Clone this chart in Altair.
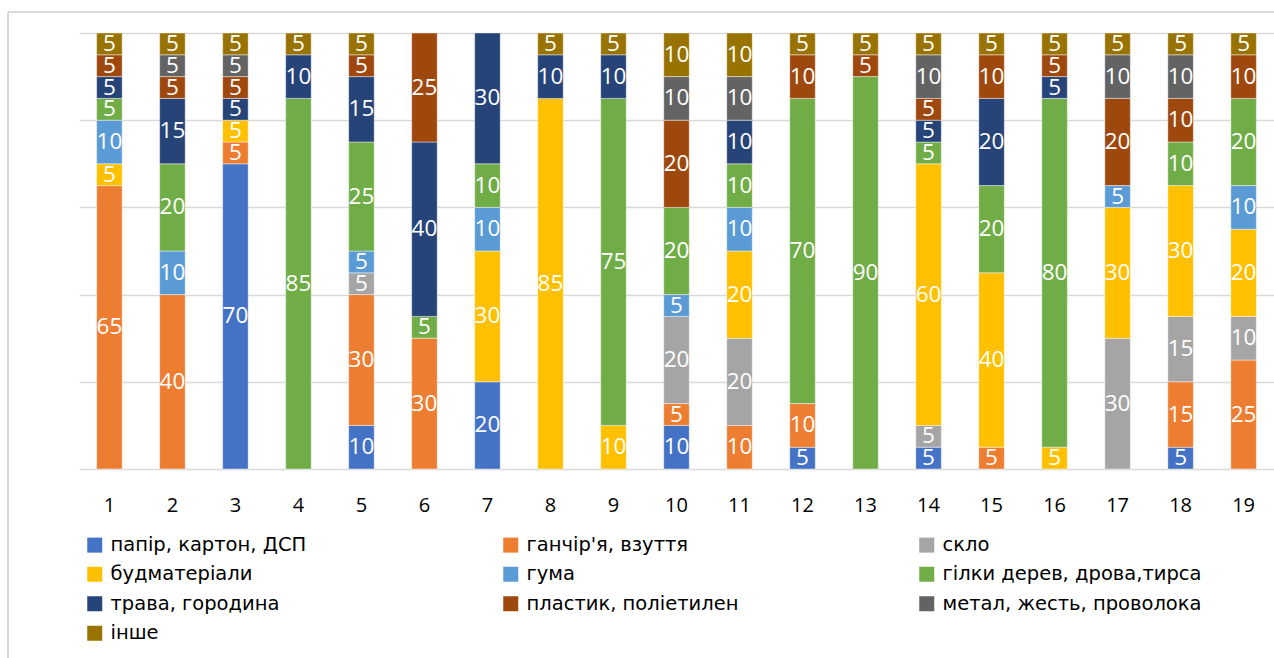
import altair as alt
import pandas as pd

sites = [str(i) for i in range(1, 20)]

categories = [
    "папір, картон, ДСП",
    "ганчір'я, взуття",
    "скло",
    "будматеріали",
    "гума",
    "гілки дерев, дрова,тирса",
    "трава, городина",
    "пластик, поліетилен",
    "метал, жесть, проволока",
    "інше",
]
colors = ["#4472C4", "#ED7D31", "#A5A5A5", "#FFC000", "#5B9BD5",
          "#70AD47", "#264478", "#9E480E", "#636363", "#997300"]

papir   = [0, 0, 70, 0, 10, 0, 20, 0, 0, 10, 0, 5, 0, 5, 0, 0, 0, 5, 0]
ganchir = [65, 40, 5, 0, 30, 30, 0, 0, 0, 5, 10, 10, 0, 0, 5, 0, 0, 15, 25]
sklo    = [0, 0, 0, 0, 5, 0, 0, 0, 0, 20, 20, 0, 0, 5, 0, 0, 30, 15, 10]
budmat  = [5, 0, 5, 0, 0, 0, 30, 85, 10, 0, 20, 0, 0, 60, 40, 5, 30, 30, 20]
guma    = [10, 10, 0, 0, 5, 0, 10, 0, 0, 5, 10, 0, 0, 0, 0, 0, 5, 0, 10]
gilky   = [5, 20, 0, 85, 25, 5, 10, 0, 75, 20, 10, 70, 90, 5, 20, 80, 0, 10, 20]
trava   = [5, 15, 5, 10, 15, 40, 30, 10, 10, 0, 10, 0, 0, 5, 20, 5, 0, 0, 0]
plastyk = [5, 5, 5, 0, 5, 25, 0, 0, 0, 20, 0, 10, 5, 5, 10, 5, 20, 10, 10]
metal   = [0, 5, 5, 0, 0, 0, 0, 0, 0, 10, 10, 0, 0, 10, 0, 0, 10, 10, 0]
inshe   = [5, 5, 5, 5, 5, 0, 0, 5, 5, 10, 10, 5, 5, 5, 5, 5, 5, 5, 5]

series = [papir, ganchir, sklo, budmat, guma, gilky, trava, plastyk, metal, inshe]

rows = []
for ci, (cat, vals) in enumerate(zip(categories, series)):
    for s, v in zip(sites, vals):
        if v > 0:
            rows.append({"site": s, "cat": cat, "idx": ci, "value": v})
df = pd.DataFrame(rows)

FONT = "Open Sans"
LEGEND_FONT = "DejaVu Sans"

base = alt.Chart(df).transform_stack(
    stack="value", groupby=["site"], sort=[alt.SortField("idx", order="ascending")],
    as_=["v0", "v1"]
)

xenc = alt.X("site:N", sort=sites, title=None,
             scale=alt.Scale(paddingInner=0.595, paddingOuter=0.28),
             axis=alt.Axis(labelAngle=0, domain=False, ticks=False, labelPadding=26,
                           labelFontSize=20, labelColor="#000000", labelFont=FONT))

bars = base.mark_bar(stroke="#FFFFFF", strokeWidth=0.6, strokeOpacity=0.7).encode(
    x=xenc,
    y=alt.Y("v0:Q", title=None, scale=alt.Scale(domain=[0, 100], nice=False),
            axis=alt.Axis(values=[0, 20, 40, 60, 80, 100], labels=False, ticks=False,
                          domain=False, grid=True, gridColor="#D9D9D9", gridWidth=1.5)),
    y2="v1:Q",
    color=alt.Color("cat:N", scale=alt.Scale(domain=categories, range=colors),
                    legend=alt.Legend(title=None, orient="none", legendX=6, legendY=502,
                                      direction="horizontal",
                                      columns=3, gridAlign="all", columnPadding=131,
                                      rowPadding=8.5, symbolType="square", symbolSize=225,
                                      symbolStrokeWidth=0, labelFontSize=19.5,
                                      labelFont=LEGEND_FONT, labelColor="#000000",
                                      labelLimit=500, labelOffset=6, padding=0)),
)

labels = base.transform_calculate(mid="(datum.v0 + datum.v1) / 2").mark_text(
    color="white", fontSize=22.5, font=FONT, baseline="middle", align="center"
).encode(
    x=alt.X("site:N", sort=sites),
    y=alt.Y("mid:Q"),
    text=alt.Text("value:Q"),
)

frame_data = alt.Data(values=[{"k": 1}])
frame_v = alt.Chart(frame_data).mark_rule(color="#D9D9D9", strokeWidth=2).encode(
    x=alt.value(-71), y=alt.value(-21), y2=alt.value(640)
)
frame_h = alt.Chart(frame_data).mark_rule(color="#D9D9D9", strokeWidth=2).encode(
    x=alt.value(-71), x2=alt.value(1200), y=alt.value(-21)
)

chart = alt.layer(frame_v, frame_h, bars, labels).properties(
    width=1195, height=436,
    autosize=alt.AutoSizeParams(type="none"),
    padding={"left": 79, "top": 33, "right": 0, "bottom": 189},
    background="white",
).configure_view(stroke=None)

chart.save("out.html", embed_options={"renderer": "svg", "actions": False})
